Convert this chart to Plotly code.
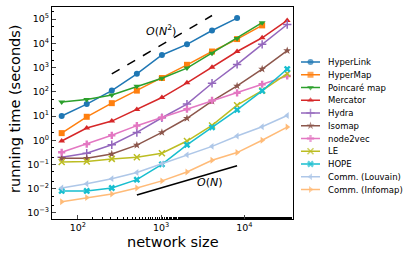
import plotly.graph_objects as go

sizes = [64, 128, 256, 512, 1024, 2048, 4096, 8192, 16384, 32768]

hyperlink = [10, 31, 112, 550, 3300, 9100, 34000, 110000]
hypermap = [1.97, 9.3, 34, 112, 370, 1300, 4600, 15000, 55000]
poincare = [38, 48, 74, 170, 365, 950, 3900, 16000, 71000]
mercator = [0.93, 3.2, 6.2, 18.5, 58, 235, 1030, 4600, 17000, 88000]
hydra = [0.20, 0.29, 0.65, 2.1, 8.5, 31, 225, 1350, 9100, 60000]
isomap = [0.18, 0.18, 0.27, 0.63, 2.1, 8.1, 41, 174, 870, 5000]
node2vec = [0.32, 0.69, 1.6, 4.0, 8.7, 19, 44, 90, 205, 450]
le = [0.126, 0.134, 0.17, 0.20, 0.29, 0.93, 4.1, 28, 112, 560]
hope = [0.0081, 0.0081, 0.0107, 0.0236, 0.102, 0.65, 3.4, 18, 110, 870]
louvain = [0.0107, 0.016, 0.026, 0.047, 0.107, 0.25, 0.56, 1.5, 3.6, 10.5]
infomap = [0.0029, 0.0043, 0.0061, 0.0107, 0.021, 0.049, 0.15, 0.31, 1.0, 3.5]

names = ["HyperLink", "HyperMap", "Poincaré map", "Mercator", "Hydra", "Isomap",
         "node2vec", "LE", "HOPE", "Comm. (Louvain)", "Comm. (Infomap)"]
series = [hyperlink, hypermap, poincare, mercator, hydra, isomap,
          node2vec, le, hope, louvain, infomap]
colors = ["#1f77b4", "#ff7f0e", "#2ca02c", "#d62728", "#9467bd", "#8c564b",
          "#e377c2", "#bcbd22", "#17becf", "#aec7e8", "#ffbb78"]
symbols = ["circle", "square", "triangle-down", "triangle-up", "cross-thin", "star",
           "cross", "x-thin", "x", "triangle-left", "triangle-right"]

n2_x = [256, 4096]
n2_y = [550, 550 * 256]
n1_x = [512, 8192]
n1_y = [0.0055, 0.0055 * 16]

W, H = 415, 260
L, R, T, B = 52, 293, 7, 219

fig = go.Figure()
for name, ys, c, s in zip(names, series, colors, symbols):
    thin = s.endswith("-thin")
    fig.add_trace(go.Scatter(
        x=sizes[:len(ys)], y=ys, name=name, mode="lines+markers", showlegend=False,
        line=dict(color=c, width=1.5),
        marker=dict(symbol=s, size=6, color=c,
                    line=dict(color=c, width=1.5 if thin else 0)),
    ))

fig.add_trace(go.Scatter(x=n2_x, y=n2_y, mode="lines", showlegend=False,
                         line=dict(color="black", width=1.5, dash="dash")))
fig.add_trace(go.Scatter(x=n1_x, y=n1_y, mode="lines", showlegend=False,
                         line=dict(color="black", width=1.5)))

fig.add_annotation(x=3.0, y=4.55, xref="x", yref="y", text="<i>O</i>(<i>N</i><sup>2</sup>)",
                   showarrow=False, font=dict(size=11, color="black"))
fig.add_annotation(x=3.59, y=-1.76, xref="x", yref="y", text="<i>O</i>(<i>N</i>)",
                   showarrow=False, font=dict(size=11, color="black"))

# legend drawn on an overlay pixel-space axis
leg_x0, leg_x1, leg_tx = 301, 320, 326
leg_y0, leg_dy = 62, 12.75
for i, (name, c, s) in enumerate(zip(names, colors, symbols)):
    thin = s.endswith("-thin")
    yy = leg_y0 + i * leg_dy
    fig.add_trace(go.Scatter(
        x=[leg_x0, (leg_x0 + leg_x1) / 2, leg_x1], y=[yy, yy, yy],
        xaxis="x2", yaxis="y2", mode="lines+markers", showlegend=False, hoverinfo="skip",
        line=dict(color=c, width=1.5),
        marker=dict(symbol=s, size=[0, 6, 0], color=c,
                    line=dict(color=c, width=1.5 if thin else 0)),
    ))
    fig.add_annotation(x=leg_tx, y=yy, xref="x2", yref="y2", text=name, showarrow=False,
                       xanchor="left", yanchor="middle", font=dict(size=8.5, color="black"))

# axis titles
fig.add_annotation(x=14.5, y=108.5, xref="x2", yref="y2", text="running time (seconds)",
                   textangle=-90, showarrow=False, xanchor="center", yanchor="middle",
                   font=dict(size=14.5, color="black"))
fig.add_annotation(x=172.5, y=242, xref="x2", yref="y2", text="network size",
                   showarrow=False, xanchor="center", yanchor="middle",
                   font=dict(size=14.5, color="black"))

ytv = [10.0 ** k for k in range(-3, 6)]
ytt = ["10<sup>%d</sup>" % k if k >= 0 else "10<sup>\u2212%d</sup>" % (-k) for k in range(-3, 6)]
xtv = [100, 1000, 10000]
xtt = ["10<sup>2</sup>", "10<sup>3</sup>", "10<sup>4</sup>"]

fig.update_layout(
    width=W, height=H,
    margin=dict(l=0, r=0, t=0, b=0, autoexpand=False),
    paper_bgcolor="white", plot_bgcolor="rgba(0,0,0,0)",
    font=dict(family="DejaVu Sans", color="black"),
    showlegend=False,
    xaxis=dict(type="log", range=[1.69, 4.585], tickvals=xtv, ticktext=xtt,
               domain=[L / W, R / W], anchor="y", automargin=False,
               ticks="inside", ticklen=4, showgrid=False, showline=True, linecolor="black",
               linewidth=1, mirror=True, tickfont=dict(size=9.5),
               minor=dict(ticks="inside", ticklen=2, tickcolor="black", showgrid=False)),
    yaxis=dict(type="log", range=[-3.25, 5.5], tickvals=ytv, ticktext=ytt,
               domain=[1 - B / H, 1 - T / H], anchor="x", automargin=False,
               ticks="inside", ticklen=4, showgrid=False, showline=True, linecolor="black",
               linewidth=1, mirror=True, tickfont=dict(size=9.5),
               minor=dict(ticks="inside", ticklen=2, tickcolor="black", showgrid=False)),
    xaxis2=dict(domain=[0, 1], range=[0, W], anchor="y2", visible=False, fixedrange=True),
    yaxis2=dict(domain=[0, 1], range=[H, 0], anchor="x2", visible=False, fixedrange=True),
)

fig.write_html("out.html", config={"displayModeBar": False, "staticPlot": True},
               post_script="document.body.style.margin='0';document.body.style.padding='0';")
